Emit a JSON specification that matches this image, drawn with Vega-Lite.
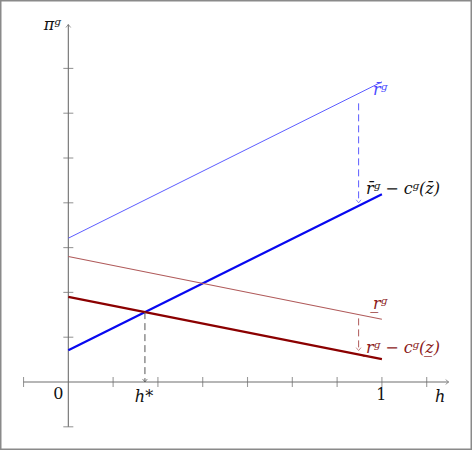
{
  "$schema": "https://vega.github.io/schema/vega-lite/v6.json",
  "width": 472,
  "height": 450,
  "padding": 0,
  "autosize": {"type": "fit", "contains": "padding"},
  "background": "white",
  "view": {"stroke": "#8a8a8a", "strokeWidth": 3},
  "datasets": {
    "segs": [
      {"s": "axis", "x": -1, "y": 0, "x2": 8.49, "y2": 0},
      {"s": "axis", "x": 0, "y": -1, "x2": 0, "y2": 7.98},
      {"s": "rbar", "x": 0, "y": 3.21, "x2": 7, "y2": 6.7},
      {"s": "rbarc", "x": 0, "y": 0.71, "x2": 7, "y2": 4.19},
      {"s": "rund", "x": 0, "y": 2.8, "x2": 7, "y2": 1.4},
      {"s": "rundc", "x": 0, "y": 1.9, "x2": 7, "y2": 0.51},
      {"s": "dblue", "x": 6.48, "y": 6.22, "x2": 6.48, "y2": 4.0},
      {"s": "dred", "x": 6.48, "y": 1.42, "x2": 6.48, "y2": 0.7},
      {"s": "dgray", "x": 1.71, "y": 1.56, "x2": 1.71, "y2": 0.0}
    ],
    "xticks": [
      {"x": -1, "y": 0}, {"x": 1, "y": 0}, {"x": 2, "y": 0}, {"x": 3, "y": 0},
      {"x": 4, "y": 0}, {"x": 5, "y": 0}, {"x": 6, "y": 0}, {"x": 7, "y": 0}, {"x": 8, "y": 0}
    ],
    "yticks": [
      {"x": 0, "y": -1}, {"x": 0, "y": 1}, {"x": 0, "y": 2}, {"x": 0, "y": 3},
      {"x": 0, "y": 4}, {"x": 0, "y": 5}, {"x": 0, "y": 6}, {"x": 0, "y": 7}
    ],
    "heads": [
      {"s": "axis", "dir": "right", "x": 8.49, "y": 0},
      {"s": "axis", "dir": "up", "x": 0, "y": 7.98},
      {"s": "dblue", "dir": "down", "x": 6.48, "y": 4.0},
      {"s": "dred", "dir": "down", "x": 6.48, "y": 0.7},
      {"s": "dgray", "dir": "down", "x": 1.71, "y": 0.0}
    ],
    "labels": [
      {"t": "πᵍ", "g": "axis", "x": -0.36, "y": 7.97},
      {"t": "0", "g": "num", "x": -0.22, "y": -0.26},
      {"t": "h*", "g": "axis", "x": 1.69, "y": -0.33},
      {"t": "1", "g": "num", "x": 6.99, "y": -0.3},
      {"t": "h", "g": "axis", "x": 8.3, "y": -0.33},
      {"t": "r̄ᵍ", "g": "rbar", "x": 6.96, "y": 6.52},
      {"t": "r̄ᵍ − cᵍ(z̄)", "g": "axis", "x": 7.47, "y": 4.31},
      {"t": "r̲ᵍ", "g": "rund", "x": 6.96, "y": 1.74},
      {"t": "r̲ᵍ − cᵍ(z̲)", "g": "rund", "x": 7.47, "y": 0.76}
    ]
  },
  "encoding": {
    "x": {"field": "x", "type": "quantitative", "scale": {"domain": [-1.525, 9.011], "nice": false, "zero": false}, "axis": null},
    "y": {"field": "y", "type": "quantitative", "scale": {"domain": [-1.518, 8.527], "nice": false, "zero": false}, "axis": null}
  },
  "layer": [
    {"data": {"name": "segs"}, "transform": [{"filter": "datum.s == 'axis'"}],
     "mark": {"type": "rule", "color": "#6e6e6e", "strokeWidth": 1.1},
     "encoding": {"x2": {"field": "x2"}, "y2": {"field": "y2"}}},
    {"data": {"name": "segs"}, "transform": [{"filter": "datum.s == 'rbar'"}],
     "mark": {"type": "rule", "color": "#5c5cff", "strokeWidth": 1},
     "encoding": {"x2": {"field": "x2"}, "y2": {"field": "y2"}}},
    {"data": {"name": "segs"}, "transform": [{"filter": "datum.s == 'rbarc'"}],
     "mark": {"type": "rule", "color": "#0808f0", "strokeWidth": 2.2},
     "encoding": {"x2": {"field": "x2"}, "y2": {"field": "y2"}}},
    {"data": {"name": "segs"}, "transform": [{"filter": "datum.s == 'rund'"}],
     "mark": {"type": "rule", "color": "#b05a5a", "strokeWidth": 1.1},
     "encoding": {"x2": {"field": "x2"}, "y2": {"field": "y2"}}},
    {"data": {"name": "segs"}, "transform": [{"filter": "datum.s == 'rundc'"}],
     "mark": {"type": "rule", "color": "#8b0000", "strokeWidth": 2.2},
     "encoding": {"x2": {"field": "x2"}, "y2": {"field": "y2"}}},
    {"data": {"name": "segs"}, "transform": [{"filter": "datum.s == 'dblue'"}],
     "mark": {"type": "rule", "color": "#5c5cff", "strokeWidth": 1, "strokeDash": [7, 4]},
     "encoding": {"x2": {"field": "x2"}, "y2": {"field": "y2"}}},
    {"data": {"name": "segs"}, "transform": [{"filter": "datum.s == 'dred'"}],
     "mark": {"type": "rule", "color": "#b05a5a", "strokeWidth": 1, "strokeDash": [7, 4]},
     "encoding": {"x2": {"field": "x2"}, "y2": {"field": "y2"}}},
    {"data": {"name": "segs"}, "transform": [{"filter": "datum.s == 'dgray'"}],
     "mark": {"type": "rule", "color": "#555555", "strokeWidth": 1, "strokeDash": [7, 4]},
     "encoding": {"x2": {"field": "x2"}, "y2": {"field": "y2"}}},
    {"data": {"name": "xticks"},
     "mark": {"type": "tick", "orient": "vertical", "size": 10, "thickness": 1.1, "color": "#6e6e6e"}},
    {"data": {"name": "yticks"},
     "mark": {"type": "tick", "orient": "horizontal", "size": 10, "thickness": 1.1, "color": "#6e6e6e"}},
    {"data": {"name": "heads"}, "transform": [{"filter": "datum.dir == 'right'"}],
     "mark": {"type": "point", "filled": false, "size": 36, "strokeWidth": 1, "color": "#6e6e6e", "shape": "M-1,-0.8L0,0L-1,0.8"}},
    {"data": {"name": "heads"}, "transform": [{"filter": "datum.dir == 'up'"}],
     "mark": {"type": "point", "filled": false, "size": 36, "strokeWidth": 1, "color": "#6e6e6e", "shape": "M-0.8,1L0,0L0.8,1"}},
    {"data": {"name": "heads"}, "transform": [{"filter": "datum.s == 'dblue'"}],
     "mark": {"type": "point", "filled": false, "size": 36, "strokeWidth": 1, "color": "#5c5cff", "shape": "M-0.8,-1L0,0L0.8,-1"}},
    {"data": {"name": "heads"}, "transform": [{"filter": "datum.s == 'dred'"}],
     "mark": {"type": "point", "filled": false, "size": 36, "strokeWidth": 1, "color": "#b05a5a", "shape": "M-0.8,-1L0,0L0.8,-1"}},
    {"data": {"name": "heads"}, "transform": [{"filter": "datum.s == 'dgray'"}],
     "mark": {"type": "point", "filled": false, "size": 36, "strokeWidth": 1, "color": "#555555", "shape": "M-0.8,-1L0,0L0.8,-1"}},
    {"data": {"name": "labels"}, "transform": [{"filter": "datum.g == 'axis'"}],
     "mark": {"type": "text", "font": "DejaVu Serif", "fontSize": 16, "fontStyle": "italic", "color": "#111111", "align": "center", "baseline": "middle"},
     "encoding": {"text": {"field": "t"}}},
    {"data": {"name": "labels"}, "transform": [{"filter": "datum.g == 'num'"}],
     "mark": {"type": "text", "font": "DejaVu Serif", "fontSize": 16, "color": "#111111", "align": "center", "baseline": "middle"},
     "encoding": {"text": {"field": "t"}}},
    {"data": {"name": "labels"}, "transform": [{"filter": "datum.g == 'rbar'"}],
     "mark": {"type": "text", "font": "DejaVu Serif", "fontSize": 16, "fontStyle": "italic", "color": "#4a4aff", "align": "center", "baseline": "middle"},
     "encoding": {"text": {"field": "t"}}},
    {"data": {"name": "labels"}, "transform": [{"filter": "datum.g == 'rund'"}],
     "mark": {"type": "text", "font": "DejaVu Serif", "fontSize": 16, "fontStyle": "italic", "color": "#8b1a1a", "align": "center", "baseline": "middle"},
     "encoding": {"text": {"field": "t"}}}
  ]
}
